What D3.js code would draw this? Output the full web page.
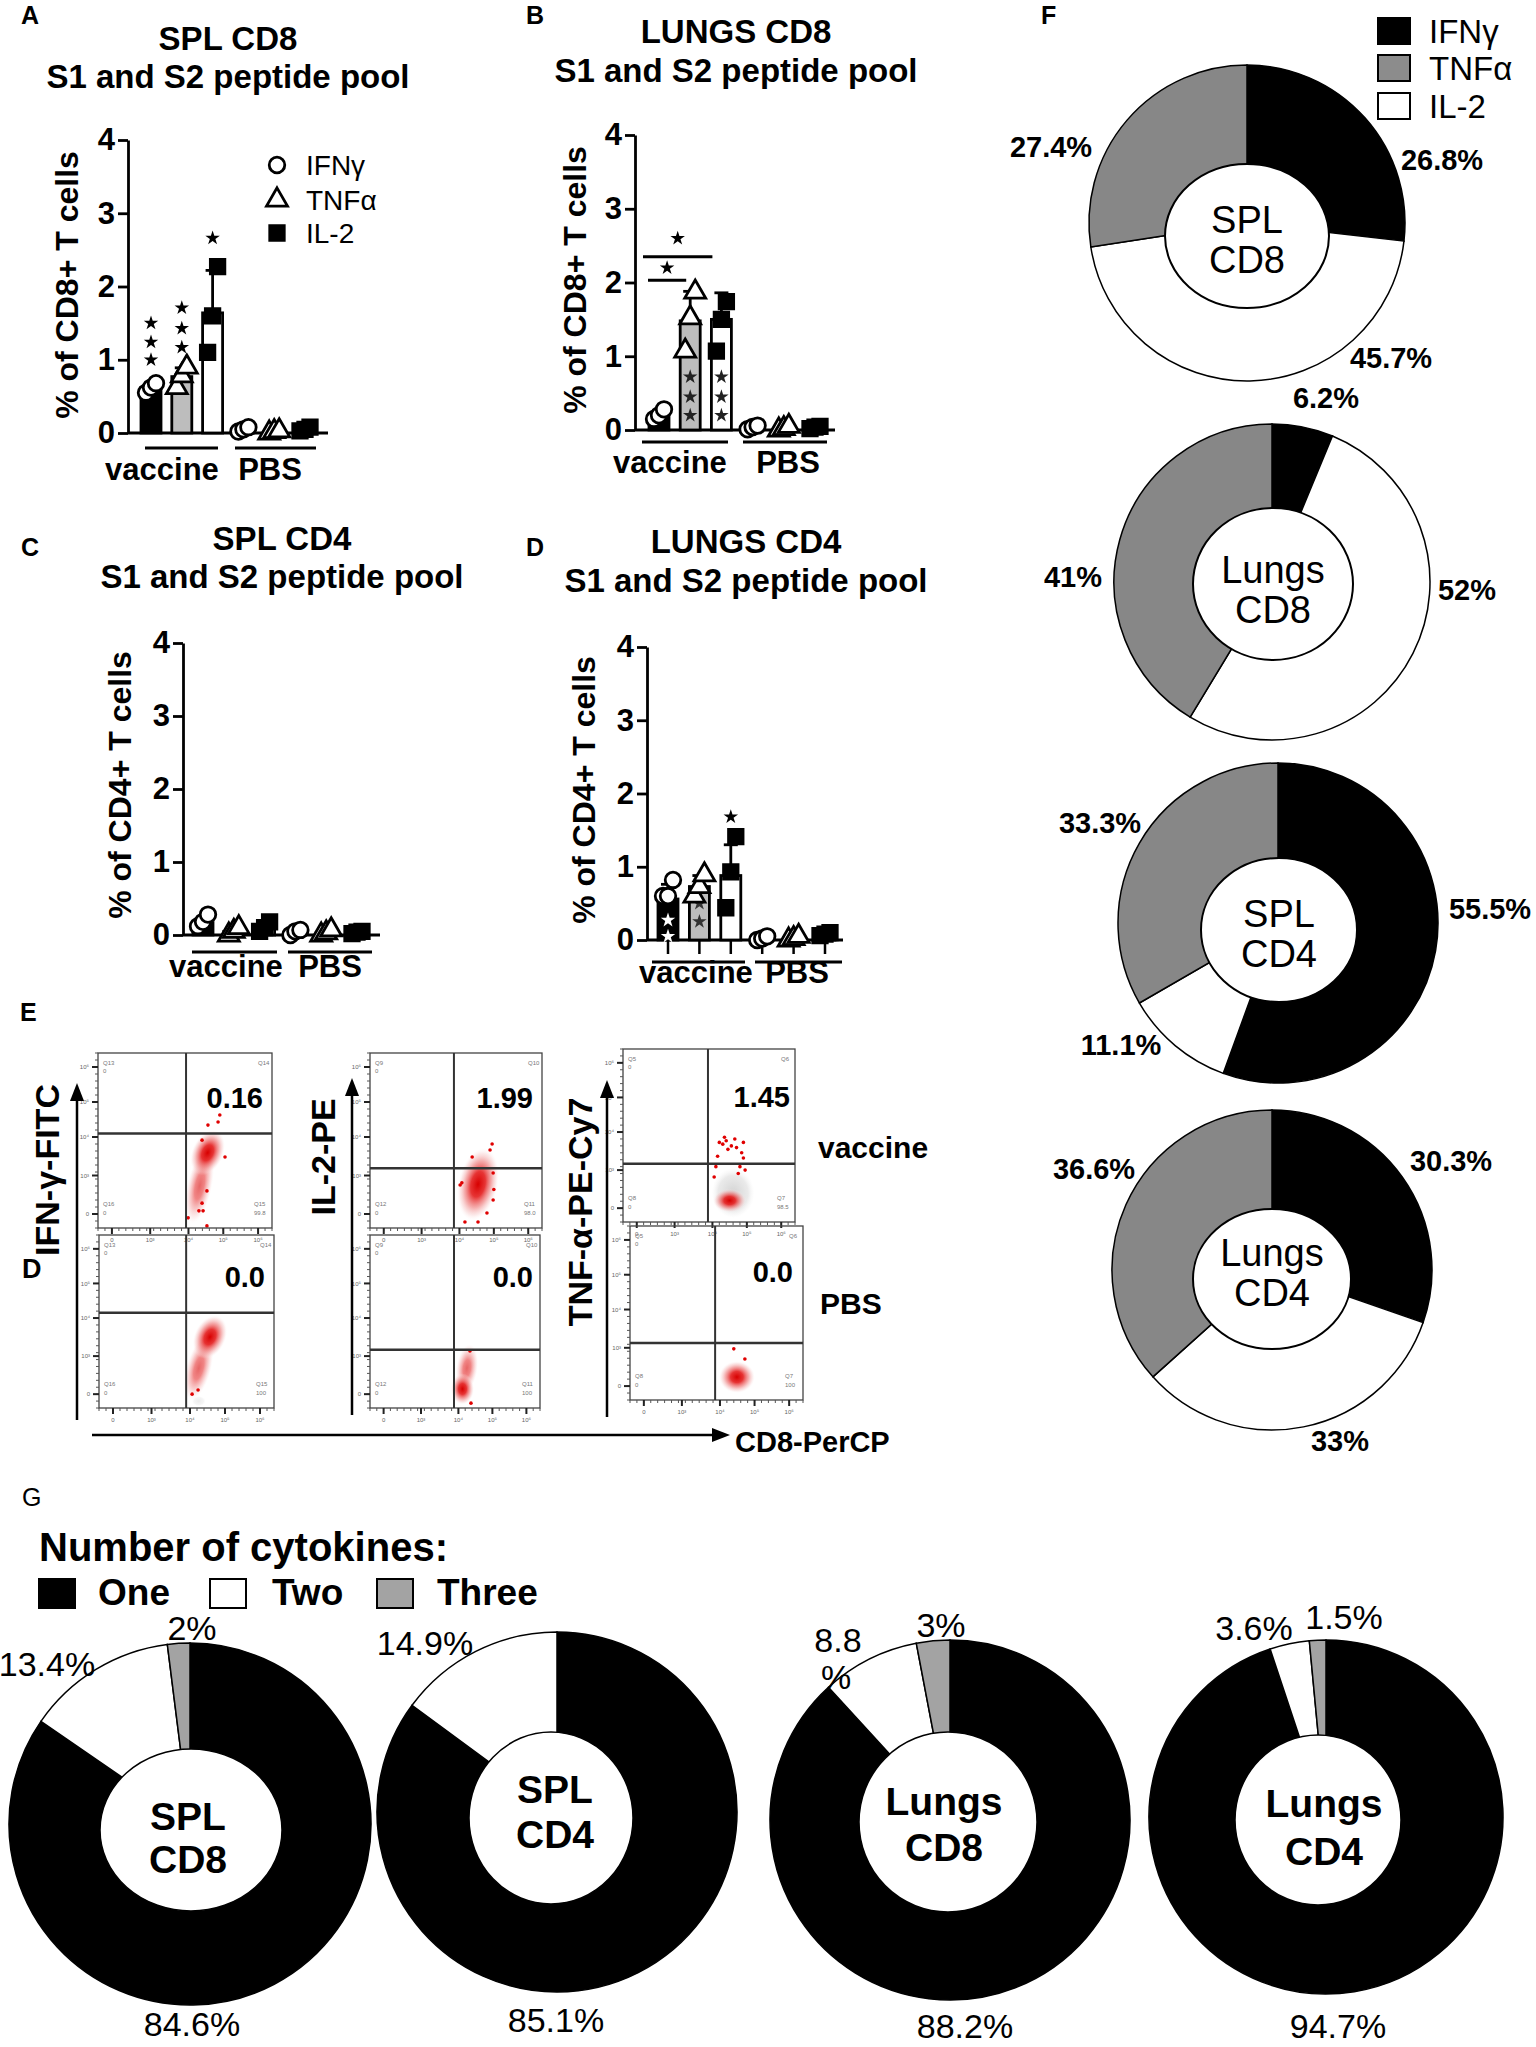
<!DOCTYPE html>
<html><head><meta charset="utf-8">
<script src="https://cdn.jsdelivr.net/npm/d3@7"></script>
<style>
body{margin:0;background:#fff}
svg{display:block}
text{font-family:"Liberation Sans",Arial,Helvetica,sans-serif}
</style>
</head><body>
<svg id="chart" width="1536" height="2047"></svg>
<script>
// ================= DATA =================
// Bar charts A-D: 6 categories = vaccine(IFNγ,TNFα,IL-2), PBS(IFNγ,TNFα,IL-2)
const barSeries = ["IFNγ","TNFα","IL-2"];
const barGroups = ["vaccine","PBS"];
const yTickValues = [0,1,2,3,4];

const splCD8Means   = [0.62, 0.77, 1.64, 0.05, 0.02, 0.05];
const splCD8SD      = [0.06, 0.12, 0.58, 0.03, 0.01, 0.02];
const splCD8Points  = [[0.55,0.62,0.68],[0.62,0.78,0.90],[1.10,1.60,2.27],[0.02,0.05,0.08],[0.00,0.02,0.03],[0.03,0.05,0.08]];

const lungsCD8Means  = [0.20, 1.48, 1.50, 0.04, 0.02, 0.03];
const lungsCD8SD     = [0.06, 0.40, 0.36, 0.02, 0.01, 0.02];
const lungsCD8Points = [[0.15,0.20,0.28],[1.07,1.52,1.87],[1.07,1.50,1.74],[0.01,0.04,0.06],[0.00,0.02,0.05],[0.02,0.04,0.05]];

const splCD4Means   = [0.17, 0.05, 0.11, 0.04, 0.03, 0.04];
const splCD4SD      = [0.07, 0.04, 0.05, 0.02, 0.02, 0.01];
const splCD4Points  = [[0.12,0.18,0.28],[0.00,0.05,0.10],[0.05,0.10,0.18],[0.00,0.05,0.07],[0.00,0.03,0.07],[0.02,0.04,0.05]];

const lungsCD4Means  = [0.56, 0.73, 0.88, 0.04, 0.03, 0.08];
const lungsCD4SD     = [0.20, 0.15, 0.42, 0.03, 0.02, 0.02];
const lungsCD4Points = [[0.60,0.60,0.82],[0.60,0.73,0.89],[0.44,0.93,1.41],[0.00,0.02,0.05],[0.00,0.02,0.05],[0.06,0.08,0.10]];

// significance stars (category index, values)
const splCD8Stars   = [{i:0, v:[1.5,1.24,1.0], fill:"#000"},{i:1, v:[1.71,1.43,1.17], fill:"#000"},{i:2, v:[2.66], fill:"#000"}];
const lungsCD8Stars = [{i:1, v:[0.72,0.45,0.2], fill:"#222"},{i:2, v:[0.72,0.45,0.2], fill:"#222"}];
const lungsCD8Brackets = [{from:0,to:1,v:2.03,star:2.2},{from:0,to:2,v:2.35,star:2.6}];
const lungsCD4Stars = [{i:2, v:[1.68], fill:"#000"},{i:0, v:[0.27,0.05], fill:"#fff"},{i:1, v:[0.5,0.25], fill:"#333"}];

// Panel F: cytokine distribution (%)
const cytokines = ["IFNγ","TNFα","IL-2"];
const fNames = [["SPL","CD8"],["Lungs","CD8"],["SPL","CD4"],["Lungs","CD4"]];
const fIFN = [26.8, 6.2, 55.5, 30.3];
const fTNF = [27.4, 41, 33.3, 36.6];
const fIL2 = [45.7, 52, 11.1, 33];
const fIFNLabels = ["26.8%","6.2%","55.5%","30.3%"];
const fTNFLabels = ["27.4%","41%","33.3%","36.6%"];
const fIL2Labels = ["45.7%","52%","11.1%","33%"];

// Panel G: number of cytokines (%)
const gCategories = ["One","Two","Three"];
const gNames = [["SPL","CD8"],["SPL","CD4"],["Lungs","CD8"],["Lungs","CD4"]];
const gOne   = [84.6, 85.1, 88.2, 94.7];
const gTwo   = [13.4, 14.9, 8.8, 3.6];
const gThree = [2, 0, 3, 1.5];

// Panel E: flow cytometry (log-decade units 0..5)
const flowMarkers = ["IFN-γ-FITC","IL-2-PE","TNF-α-PE-Cy7"];
const flowRows = ["vaccine","PBS"];
const flowPercents = ["0.16","0.0","1.99","0.0","1.45","0.0"];
const flowGates = [[2.53,2.70],[2.49,2.75],[2.44,1.71],[2.47,1.68],[2.47,1.68],[2.46,1.64]];
// clouds: [x, y, sx, sy, angle, opacity, kind]
const flowClouds = [
  [[2.92,1.20,0.36,1.10,12,0.6,"r"],[3.15,2.15,0.45,0.68,25,1,"r"]],
  [[2.85,1.15,0.36,0.95,15,0.6,"r"],[3.17,2.05,0.45,0.66,25,1,"r"],[2.85,0.2,0.2,0.15,0,0.4,"g"]],
  [[3.14,1.25,0.58,1.05,12,1,"r"]],
  [[2.85,1.15,0.32,0.70,8,0.6,"r"],[2.72,0.55,0.34,0.45,0,1,"r"]],
  [[3.20,0.84,0.62,0.72,0,0.9,"g"],[3.10,0.62,0.48,0.34,0,1,"r"]],
  [[3.09,0.66,0.52,0.46,0,1,"r"]]
];
const flowDots = [
  [[3.16,2.94],[3.45,3.03],[3.50,3.23],[2.99,2.51],[3.65,2.03],[3.13,1.06],[2.99,0.71],[3.02,0.49],[2.90,0.49],[3.13,0.06],[2.59,0.29]],
  [[2.66,0.40],[2.83,0.52]],
  [[3.49,2.23],[2.97,2.03],[3.58,1.57],[2.67,1.29],[3.58,0.80],[3.40,0.43],[2.76,0.17],[3.14,0.17],[2.62,1.23],[3.55,2.40],[3.60,1.10]],
  [[2.94,1.65],[2.97,0.14]],
  [[2.80,2.30],[2.90,2.25],[3.00,2.35],[3.15,2.20],[3.30,2.15],[3.45,2.00],[3.50,1.85],[3.40,1.60],[3.55,1.50],[3.35,1.40],[2.75,1.90],[2.70,1.60],[2.65,1.30],[3.50,2.30],[3.05,2.10],[2.95,2.45],[3.25,2.40]],
  [[3.00,1.47],[3.32,1.18]]
];
const flowQuadLabels = [["Q13","Q14","Q16","Q15","99.8"],["Q13","Q14","Q16","Q15","100"],["Q9","Q10","Q12","Q11","98.0"],["Q9","Q10","Q12","Q11","100"],["Q5","Q6","Q8","Q7","98.5"],["Q5","Q6","Q8","Q7","100"]];
const flowTickLabels = ["0","10³","10⁴","10⁵","10⁶"];
const flowTickValues = [0.4,1.5,2.6,3.6,4.6];

// ================= DRAWING =================
const svg = d3.select("#chart");
const FONT = '"Liberation Sans", Arial, Helvetica, sans-serif';
const seriesFill = ["#000","#bdbdbd","#fff"];

function addText(sel, str, x, y, o={}) {
  return sel.append("text").attr("x",x).attr("y",y)
    .attr("font-size", o.size||20).attr("font-weight", o.weight||"normal")
    .attr("text-anchor", o.anchor||"start").attr("fill", o.fill||"#000")
    .attr("dy", o.dy||null).text(str);
}

const markerSym = [d3.symbol(d3.symbolCircle,190)(), d3.symbol(d3.symbolTriangle,190)(), d3.symbol(d3.symbolSquare,210)()];
const markerFill = ["#fff","#fff","#000"];
const starPath = d3.symbol(d3.symbolStar, 65)();

function barPanel(cfg, means, sds, pts, stars, brackets) {
  const g = svg.append("g");
  const y = d3.scaleLinear().domain([0,4]).range([cfg.y0, cfg.y4]);
  const x = d3.scalePoint().domain(d3.range(6)).range([cfg.xFirst, cfg.xLast]);
  addText(g, cfg.letter, cfg.lx, cfg.ly, {size:25, weight:"bold"});
  cfg.title.forEach((t,k)=> addText(g, t, cfg.tx, cfg.ty[k], {size:33, weight:"bold", anchor:"middle"}));
  const ax = g.append("g").attr("transform",`translate(${cfg.axisX},0)`)
    .call(d3.axisLeft(y).tickValues(yTickValues).tickFormat(d3.format("d")).tickSize(10).tickPadding(3).tickSizeOuter(0));
  ax.select(".domain").attr("stroke","#000").attr("stroke-width",2.8);
  ax.selectAll(".tick line").attr("stroke","#000").attr("stroke-width",2.8);
  ax.selectAll(".tick text").attr("font-size",31).attr("font-weight","bold").attr("font-family",FONT).attr("fill","#000");
  g.append("text").attr("transform",`translate(${cfg.ylx},${cfg.yly}) rotate(-90)`)
    .attr("text-anchor","middle").attr("dy","0.35em").attr("font-size",32).attr("font-weight","bold").text(cfg.ylabel);
  g.append("line").attr("x1",cfg.axisX).attr("x2",cfg.xEnd).attr("y1",cfg.y0).attr("y2",cfg.y0).attr("stroke","#000").attr("stroke-width",2.8);
  if (cfg.ticksDown) {
    d3.range(6).forEach(i=> g.append("line").attr("x1",x(i)).attr("x2",x(i)).attr("y1",cfg.y0).attr("y2",cfg.y0+14).attr("stroke","#000").attr("stroke-width",2.5));
  }
  const bw = 20;
  means.forEach((m,i)=>{
    const top = y(m+sds[i]);
    g.append("line").attr("x1",x(i)).attr("x2",x(i)).attr("y1",y(m)).attr("y2",top).attr("stroke","#000").attr("stroke-width",2.8);
    g.append("line").attr("x1",x(i)-7).attr("x2",x(i)+7).attr("y1",top).attr("y2",top).attr("stroke","#000").attr("stroke-width",2.8);
  });
  means.forEach((m,i)=>{
    g.append("rect").attr("x",x(i)-bw/2).attr("y",y(m)).attr("width",bw).attr("height",Math.max(0,y(0)-y(m)))
      .attr("fill",seriesFill[i%3]).attr("stroke","#000").attr("stroke-width",2.8);
  });
  stars.forEach(s=> s.v.forEach(v=>{
    g.append("path").attr("d",starPath).attr("transform",`translate(${x(s.i)},${y(v)})`).attr("fill",s.fill);
  }));
  pts.forEach((arr,i)=>{
    const n = arr.length;
    arr.forEach((v,k)=>{
      g.append("path").attr("d",markerSym[i%3]).attr("transform",`translate(${x(i)+(k-(n-1)/2)*5},${y(v)})`)
        .attr("fill",markerFill[i%3]).attr("stroke","#000").attr("stroke-width",2.8);
    });
  });
  (brackets||[]).forEach((b,k)=>{
    const x1 = x(b.from)-cfg.brk[k][0], x2 = x(b.to)-cfg.brk[k][1];
    g.append("line").attr("x1",x1).attr("x2",x2).attr("y1",y(b.v)).attr("y2",y(b.v)).attr("stroke","#000").attr("stroke-width",3);
    g.append("path").attr("d",starPath).attr("transform",`translate(${(x1+x2)/2},${y(b.star)})`).attr("fill","#000");
  });
  cfg.ul.forEach((u,k)=>{
    g.append("line").attr("x1",u[0]).attr("x2",u[1]).attr("y1",cfg.ulY).attr("y2",cfg.ulY).attr("stroke","#000").attr("stroke-width",3);
    addText(g, barGroups[k], cfg.labs[k][0], cfg.labs[k][1], {size:31, weight:"bold", anchor:"middle"});
  });
  return {g, x, y};
}

barPanel({letter:"A", lx:21, ly:24, axisX:128, y0:433, y4:140, xFirst:151, xLast:305, xEnd:328,
  title:["SPL CD8","S1 and S2 peptide pool"], tx:228, ty:[50,88], ylabel:"% of CD8+ T cells", ylx:67, yly:285,
  ul:[[145,218],[235,316]], ulY:448, labs:[[162,480],[270,480]]}, splCD8Means, splCD8SD, splCD8Points, splCD8Stars);

barPanel({letter:"B", lx:526, ly:24, axisX:635, y0:430, y4:135, xFirst:659, xLast:815, xEnd:835,
  title:["LUNGS CD8","S1 and S2 peptide pool"], tx:736, ty:[43,82], ylabel:"% of CD8+ T cells", ylx:575, yly:280,
  ul:[[642,728],[743,827]], ulY:442, labs:[[670,473],[788,473]], brk:[[11,4],[16,9]]},
  lungsCD8Means, lungsCD8SD, lungsCD8Points, lungsCD8Stars, lungsCD8Brackets);

barPanel({letter:"C", lx:21, ly:556, axisX:183, y0:935, y4:643, xFirst:203, xLast:357, xEnd:380,
  title:["SPL CD4","S1 and S2 peptide pool"], tx:282, ty:[550,588], ylabel:"% of CD4+ T cells", ylx:120, yly:785,
  ul:[[192,277],[288,372]], ulY:952, labs:[[226,977],[330,977]]}, splCD4Means, splCD4SD, splCD4Points, []);

barPanel({letter:"D", lx:526, ly:556, axisX:647, y0:940, y4:647, xFirst:668, xLast:825, xEnd:843, ticksDown:true,
  title:["LUNGS CD4","S1 and S2 peptide pool"], tx:746, ty:[553,592], ylabel:"% of CD4+ T cells", ylx:584, yly:790,
  ul:[[652,745],[755,842]], ulY:962, labs:[[696,983],[797,983]]}, lungsCD4Means, lungsCD4SD, lungsCD4Points, lungsCD4Stars);

// Legend in A
{
  const lg = svg.append("g");
  const ys = [165, 200, 233];
  barSeries.forEach((s,k)=>{
    lg.append("path").attr("d",markerSym[k]).attr("transform",`translate(277,${ys[k]})`)
      .attr("fill",markerFill[k]).attr("stroke","#000").attr("stroke-width",2.8);
    addText(lg, s, 306, ys[k], {size:28, dy:"0.35em"});
  });
}

// ---------- Panel E: flow plots ----------
const defs = svg.append("defs");
const gr = defs.append("radialGradient").attr("id","gRed");
[[0,"rgb(215,0,0)",1],[0.35,"rgb(228,30,30)",0.9],[0.65,"rgb(238,120,120)",0.6],[0.85,"rgb(245,190,190)",0.35],[1,"rgb(255,240,240)",0]]
  .forEach(s=> gr.append("stop").attr("offset",s[0]).attr("stop-color",s[1]).attr("stop-opacity",s[2]));
const gg = defs.append("radialGradient").attr("id","gGrey");
[[0,"#c8c8c8",0.9],[0.7,"#d8d8d8",0.6],[1,"#eeeeee",0]]
  .forEach(s=> gg.append("stop").attr("offset",s[0]).attr("stop-color",s[1]).attr("stop-opacity",s[2]));

const flowBoxes = [[98,1053,272,1228],[99,1235,274,1408],[370,1053,542,1228],[370,1235,540,1408],[623,1049,795,1222],[630,1226,803,1400]];
const flowPctRight = [263,265,533,533,790,793];
const flowPctY = [1098,1277,1098,1277,1097,1272];

addText(svg, "E", 20, 1021, {size:25, weight:"bold"});
flowBoxes.forEach((b,p)=>{
  const g = svg.append("g");
  const xs = d3.scaleLinear().domain([0,5]).range([b[0],b[2]]);
  const ys = d3.scaleLinear().domain([0,5]).range([b[3],b[1]]);
  const pxX = (b[2]-b[0])/5, pxY = (b[3]-b[1])/5;
  flowClouds[p].forEach(c=>{
    g.append("ellipse").attr("transform",`translate(${xs(c[0])},${ys(c[1])}) rotate(${c[4]})`)
      .attr("rx",c[2]*pxX).attr("ry",c[3]*pxY).attr("fill", c[6]==="g"?"url(#gGrey)":"url(#gRed)").attr("opacity",c[5]);
  });
  flowDots[p].forEach(d=> g.append("circle").attr("cx",xs(d[0])).attr("cy",ys(d[1])).attr("r",1.8).attr("fill","#e00000"));
  g.append("rect").attr("x",b[0]).attr("y",b[1]).attr("width",b[2]-b[0]).attr("height",b[3]-b[1]).attr("fill","none").attr("stroke","#444").attr("stroke-width",1.3);
  const gt = flowGates[p];
  g.append("line").attr("x1",xs(gt[0])).attr("x2",xs(gt[0])).attr("y1",b[1]).attr("y2",b[3]).attr("stroke","#333").attr("stroke-width",2);
  g.append("line").attr("x1",b[0]).attr("x2",b[2]).attr("y1",ys(gt[1])).attr("y2",ys(gt[1])).attr("stroke","#333").attr("stroke-width",2.5);
  d3.range(0,5.01,0.2).forEach(v=>{
    g.append("line").attr("x1",b[0]).attr("x2",b[0]-3).attr("y1",ys(v)).attr("y2",ys(v)).attr("stroke","#555").attr("stroke-width",1);
    g.append("line").attr("x1",xs(v)).attr("x2",xs(v)).attr("y1",b[3]).attr("y2",b[3]+3).attr("stroke","#555").attr("stroke-width",1);
  });
  flowTickValues.forEach((v,k)=>{
    g.append("line").attr("x1",b[0]).attr("x2",b[0]-6).attr("y1",ys(v)).attr("y2",ys(v)).attr("stroke","#222").attr("stroke-width",2);
    g.append("line").attr("x1",xs(v)).attr("x2",xs(v)).attr("y1",b[3]).attr("y2",b[3]+6).attr("stroke","#222").attr("stroke-width",2);
    addText(g, flowTickLabels[k], b[0]-9, ys(v), {size:6, anchor:"end", fill:"#666", dy:"0.35em"});
    addText(g, flowTickLabels[k], xs(v), b[3]+14, {size:6, anchor:"middle", fill:"#666"});
  });
  const q = flowQuadLabels[p];
  addText(g, q[0], b[0]+5, b[1]+12, {size:6, fill:"#777"});
  addText(g, "0", b[0]+5, b[1]+20, {size:6, fill:"#777"});
  addText(g, q[1], b[2]-14, b[1]+12, {size:6, fill:"#777"});
  addText(g, q[2], b[0]+5, b[3]-22, {size:6, fill:"#777"});
  addText(g, "0", b[0]+5, b[3]-13, {size:6, fill:"#777"});
  addText(g, q[3], b[2]-18, b[3]-22, {size:6, fill:"#777"});
  addText(g, q[4], b[2]-18, b[3]-13, {size:6, fill:"#777"});
  addText(g, flowPercents[p], flowPctRight[p], flowPctY[p], {size:29, weight:"bold", anchor:"end", dy:"0.35em"});
});
function arrowV(x, yBottom, yTop) {
  svg.append("line").attr("x1",x).attr("x2",x).attr("y1",yBottom).attr("y2",yTop+14).attr("stroke","#000").attr("stroke-width",2.5);
  svg.append("path").attr("d",`M${x-7},${yTop+18} L${x},${yTop} L${x+7},${yTop+18} Z`).attr("fill","#000");
}
arrowV(77,1420,1083);
arrowV(352,1415,1078);
arrowV(607,1417,1080);
svg.append("line").attr("x1",92).attr("x2",714).attr("y1",1435).attr("y2",1435).attr("stroke","#000").attr("stroke-width",2.5);
svg.append("path").attr("d","M712,1428 L730,1435 L712,1442 Z").attr("fill","#000");
addText(svg, "CD8-PerCP", 735, 1442, {size:29, weight:"bold", dy:"0.35em"});
const flowYLabelPos = [[47,1170],[323,1157],[580,1212]];
flowMarkers.forEach((m,k)=>{
  svg.append("text").attr("transform",`translate(${flowYLabelPos[k][0]},${flowYLabelPos[k][1]}) rotate(-90)`)
    .attr("text-anchor","middle").attr("dy","0.35em").attr("font-size",34).attr("font-weight","bold").text(m);
});
addText(svg, "D", 22, 1278, {size:27, weight:"bold"});
addText(svg, flowRows[0], 818, 1147, {size:30, weight:"bold", dy:"0.35em"});
addText(svg, flowRows[1], 820, 1303, {size:30, weight:"bold", dy:"0.35em"});

// ---------- Panel F ----------
addText(svg, "F", 1041, 24, {size:25, weight:"bold"});
{
  const fColors = ["#000","#fff","#878787"]; // IFN, IL-2, TNF (clockwise order)
  const legendFill = ["#000","#8c8c8c","#fff"];
  const lyTop = [18,55,93];
  cytokines.forEach((c,k)=>{
    svg.append("rect").attr("x",1378).attr("y",lyTop[k]).attr("width",32).attr("height",26).attr("fill",legendFill[k]).attr("stroke","#000").attr("stroke-width",2);
    addText(svg, c, 1429, lyTop[k]+13, {size:33, dy:"0.35em"});
  });
  const fLayout = [
    {cx:1247, cy:223, r:158, ix:1247, iy:236, irx:82, iry:72, ty:240, lab:[[1442,160],[1391,358],[1051,147]]},
    {cx:1272, cy:582, r:158, ix:1273, iy:584, irx:80, iry:76, ty:590, lab:[[1326,398],[1467,590],[1073,577]]},
    {cx:1278, cy:923, r:160, ix:1279, iy:930, irx:78, iry:72, ty:934, lab:[[1490,909],[1121,1045],[1100,823]]},
    {cx:1272, cy:1270, r:160, ix:1272, iy:1279, irx:79, iry:70, ty:1273, lab:[[1451,1161],[1340,1441],[1094,1169]]}
  ];
  const pie = d3.pie().sort(null).value(d=>d);
  fLayout.forEach((L,i)=>{
    const vals = [fIFN[i], fIL2[i], fTNF[i]];
    const labs = [fIFNLabels[i], fIL2Labels[i], fTNFLabels[i]];
    const arc = d3.arc().innerRadius(0).outerRadius(L.r);
    const g = svg.append("g").attr("transform",`translate(${L.cx},${L.cy})`);
    g.selectAll("path").data(pie(vals)).join("path").attr("d",arc)
      .attr("fill",(d,k)=>fColors[k]).attr("stroke","#000").attr("stroke-width",1.5);
    svg.append("ellipse").attr("cx",L.ix).attr("cy",L.iy).attr("rx",L.irx).attr("ry",L.iry).attr("fill","#fff").attr("stroke","#000").attr("stroke-width",2);
    fNames[i].forEach((t,k)=> addText(svg, t, L.ix, L.ty + (k-0.5)*40, {size:38, anchor:"middle", dy:"0.35em"}));
    labs.forEach((t,k)=> addText(svg, t, L.lab[k][0], L.lab[k][1], {size:29, weight:"bold", anchor:"middle", dy:"0.35em"}));
  });
}

// ---------- Panel G ----------
addText(svg, "G", 22, 1506, {size:25});
addText(svg, "Number of cytokines:", 39, 1561, {size:40, weight:"bold"});
{
  const gColors = ["#000","#fff","#a3a3a3"];
  const boxX = [39,210,377], txtX = [98,272,437];
  gCategories.forEach((c,k)=>{
    svg.append("rect").attr("x",boxX[k]).attr("y",1579).attr("width",36).attr("height",29).attr("fill",gColors[k]).attr("stroke","#000").attr("stroke-width",2);
    addText(svg, c, txtX[k], 1605, {size:37, weight:"bold"});
  });
  const gLayout = [
    {cx:190, cy:1824, r:181, ix:191, iy:1830, irx:91, iry:81, tx:188, ty:[1816,1859],
     labs:[["84.6%",192,2024],["13.4%",47,1664],["2%",192,1628]]},
    {cx:557, cy:1812, r:180, ix:551, iy:1818, irx:82, iry:86, tx:555, ty:[1789,1834],
     labs:[["85.1%",556,2020],["14.9%",425,1643]]},
    {cx:950, cy:1820, r:180, ix:948, iy:1822, irx:89, iry:90, tx:944, ty:[1801,1847],
     labs:[["88.2%",965,2026],["8.8",838,1640],["%",836,1677],["3%",941,1625]]},
    {cx:1326, cy:1817, r:177, ix:1318, iy:1820, irx:83, iry:85, tx:1324, ty:[1803,1851],
     labs:[["94.7%",1338,2026],["3.6%",1254,1628],["1.5%",1344,1617]]}
  ];
  const pie = d3.pie().sort(null).value(d=>d);
  gLayout.forEach((L,i)=>{
    const vals = [gOne[i], gTwo[i], gThree[i]];
    const arc = d3.arc().innerRadius(0).outerRadius(L.r);
    const g = svg.append("g").attr("transform",`translate(${L.cx},${L.cy})`);
    g.selectAll("path").data(pie(vals).filter(d=>d.value>0)).join("path").attr("d",arc)
      .attr("fill",d=>gColors[d.index]).attr("stroke","#000").attr("stroke-width",1.5);
    svg.append("ellipse").attr("cx",L.ix).attr("cy",L.iy).attr("rx",L.irx).attr("ry",L.iry).attr("fill","#fff").attr("stroke","#000").attr("stroke-width",1.5);
    gNames[i].forEach((t,k)=> addText(svg, t, L.tx, L.ty[k], {size:39, weight:"bold", anchor:"middle", dy:"0.35em"}));
    L.labs.forEach(l=> addText(svg, l[0], l[1], l[2], {size:34, anchor:"middle", dy:"0.35em"}));
  });
}
</script>
</body></html>
